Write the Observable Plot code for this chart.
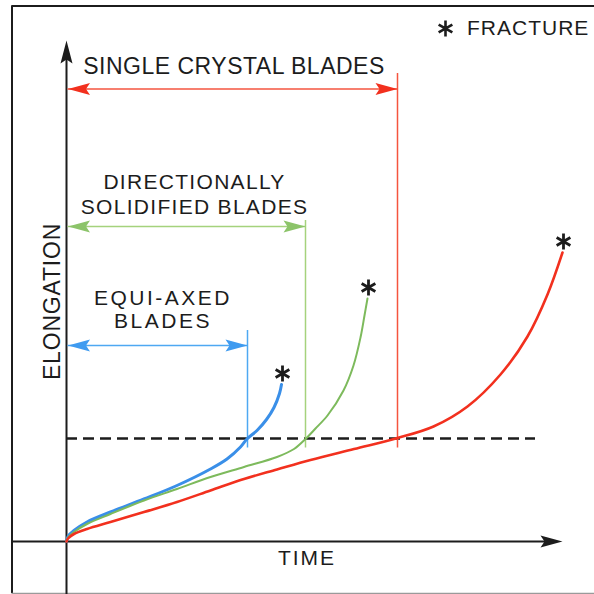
<!DOCTYPE html>
<html>
<head>
<meta charset="utf-8">
<script src="https://cdn.jsdelivr.net/npm/d3@7"></script>
<script src="https://cdn.jsdelivr.net/npm/@observablehq/plot@0.6"></script>
<style>
  body { margin: 0; background: #fff; }
  svg text { font-family: "Liberation Sans", Arial, Helvetica, sans-serif; }
  g[aria-description="label-sc"] text { letter-spacing: 0.5px; }
  g[aria-description="label-ds"] text { letter-spacing: 1.3px; }
  g[aria-description="label-eq"] text { letter-spacing: 2.5px; }
  g[aria-description="label-y"] text { letter-spacing: 0.8px; }
  g[aria-description="label-x"] text { letter-spacing: 2px; }
  g[aria-description="label-key"] text { letter-spacing: 1px; }
</style>
</head>
<body>
<div id="chart"></div>
<script>
// ---- data (time, elongation in arbitrary units) ----
const blades = ["EQUI-AXED", "DIRECTIONALLY SOLIDIFIED", "SINGLE CRYSTAL"];
const bladeLabels = ["EQUI-AXED\nBLADES", "DIRECTIONALLY\nSOLIDIFIED BLADES", "SINGLE CRYSTAL BLADES"];

const equiTime  = [0, 0.03, 0.15, 0.41, 0.88, 1.55, 2.21, 2.88, 3.21, 3.48, 3.61, 3.81, 4.00, 4.15, 4.26, 4.30];
const equiElong = [0, 0.10, 0.22, 0.39, 0.59, 0.85, 1.12, 1.45, 1.65, 1.89, 2.05, 2.22, 2.44, 2.68, 2.96, 3.14];

const dsTime  = [0, 0.03, 0.15, 0.41, 0.88, 1.55, 2.21, 2.88, 3.55, 4.21, 4.55, 4.78, 4.98, 5.22, 5.54, 5.74, 5.88, 5.96, 6.02];
const dsElong = [0, 0.08, 0.19, 0.35, 0.55, 0.82, 1.05, 1.29, 1.49, 1.69, 1.85, 2.05, 2.26, 2.52, 3.02, 3.52, 4.08, 4.52, 4.86];

const scTime  = [0, 0.03, 0.15, 0.41, 0.88, 1.55, 2.21, 2.88, 3.55, 4.21, 4.88, 5.75, 6.62, 7.34, 8.02, 8.68, 9.22, 9.62, 9.92];
const scElong = [0, 0.06, 0.15, 0.25, 0.39, 0.59, 0.79, 1.02, 1.25, 1.44, 1.63, 1.85, 2.07, 2.30, 2.70, 3.34, 4.10, 4.94, 5.78];

const thresholdElong = 2.06;                 // dashed reference level
const crossTime = [3.62, 4.78, 6.62];        // time each blade type reaches it
const guideTop  = [4.22, 6.42, 9.36];        // top of each vertical guide
const spanElong = [3.92, 6.30, 9.05];        // level of each span arrow
const guideBottom = 1.87;

// ---- styling / layout ----
const curveColors = ["#3a8fe8", "#7dba5c", "#f2301e"];
const curveWidths = [3, 2, 2.6];
const guideColors = ["#4ea8f2", "#a5d27c", "#f5553f"];
const headColors  = ["#3f9bf0", "#8cc46a", "#f2301e"];
const ink = "#1c1c1c";

const series = [
  {time: equiTime, elong: equiElong},
  {time: dsTime, elong: dsElong},
  {time: scTime, elong: scElong}
];

const frameLeft = -1.09, frameTop = 10.71, frameBottom = -1.04, xMax = 10.56;

// arrowhead shapes (tip at origin)
const headRight = {draw(c) { c.moveTo(0, 0); c.lineTo(-22, -6); c.lineTo(-18, 0); c.lineTo(-22, 6); c.closePath(); }};
const headLeft  = {draw(c) { c.moveTo(0, 0); c.lineTo(22, -6); c.lineTo(18, 0); c.lineTo(22, 6); c.closePath(); }};
const headUp    = {draw(c) { c.moveTo(0, 0); c.lineTo(-6, 23); c.lineTo(0, 19); c.lineTo(6, 23); c.closePath(); }};

const idx = [0, 1, 2];
const curveMarks = series.map((s, i) =>
  Plot.line(s.time.map((t, k) => ({t, e: s.elong[k]})), {
    x: "t", y: "e", stroke: curveColors[i], strokeWidth: curveWidths[i],
    curve: "catmull-rom", strokeLinecap: "round"
  })
);
const fracture = series.map(s => ({t: s.time[s.time.length - 1], e: s.elong[s.elong.length - 1]}));

const chart = Plot.plot({
  width: 594, height: 594, margin: 0,
  x: {domain: [-1.32, xMax], axis: null},
  y: {domain: [-1.06, 10.82], axis: null},
  color: {type: "identity"},
  style: {background: "#fff"},
  marks: [
    // page frame
    Plot.ruleX([frameLeft], {y1: frameBottom, y2: frameTop, stroke: ink, strokeWidth: 2}),
    Plot.ruleY([frameTop], {x1: frameLeft, x2: xMax, stroke: ink, strokeWidth: 2}),
    Plot.ruleY([frameBottom], {x1: frameLeft, x2: xMax, stroke: "#9a9a9a", strokeWidth: 1.5}),
    // axes
    Plot.ruleX([0], {y1: -1.06, y2: 9.7, stroke: ink, strokeWidth: 2}),
    Plot.ruleY([0], {x1: frameLeft, x2: 9.6, stroke: ink, strokeWidth: 2}),
    Plot.dot([0], {x: 0, y: 10.02, symbol: headUp, fill: ink, stroke: "none", r: 5}),
    Plot.dot([0], {x: 9.92, y: 0, symbol: headRight, fill: ink, stroke: "none", r: 5}),
    // threshold
    Plot.ruleY([thresholdElong], {x1: 0, x2: 9.38, stroke: ink, strokeWidth: 2.6, strokeDasharray: "11,6"}),
    // vertical guides
    Plot.ruleX(idx, {x: i => crossTime[i], y1: guideBottom, y2: i => guideTop[i], stroke: i => guideColors[i], strokeWidth: 1.5}),
    // span arrows
    Plot.ruleY(idx, {y: i => spanElong[i], x1: 0.03, x2: i => crossTime[i], stroke: i => guideColors[i], strokeWidth: 1.6}),
    Plot.dot(idx, {x: 0.03, y: i => spanElong[i], symbol: headLeft, fill: i => headColors[i], stroke: "none", r: 5}),
    Plot.dot(idx, {x: i => crossTime[i], y: i => spanElong[i], symbol: headRight, fill: i => headColors[i], stroke: "none", r: 5}),
    // creep curves
    ...curveMarks,
    // fracture marks
    Plot.dot(fracture, {x: "t", y: "e", dy: -11, dx: 1, symbol: "asterisk", r: 7.5, stroke: ink, strokeWidth: 2.8, fill: "none"}),
    Plot.dot([0], {x: 7.58, y: 10.26, symbol: "asterisk", r: 7.5, stroke: ink, strokeWidth: 2.6, fill: "none"}),
    Plot.text(["FRACTURE"], {x: 8.01, y: 10.26, text: d => d, textAnchor: "start", fontSize: 21, fill: ink, ariaDescription: "label-key"}),
    // labels
    Plot.text([bladeLabels[2]], {x: 3.35, y: 9.49, text: d => d, fontSize: 23, fill: ink, ariaDescription: "label-sc"}),
    Plot.text([bladeLabels[1]], {x: 2.56, y: 6.96, text: d => d, fontSize: 21, lineHeight: 1.19, fill: ink, ariaDescription: "label-ds"}),
    Plot.text([bladeLabels[0]], {x: 1.93, y: 4.64, text: d => d, fontSize: 21, lineHeight: 1.1, fill: ink, ariaDescription: "label-eq"}),
    Plot.text(["ELONGATION"], {x: -0.28, y: 4.8, text: d => d, rotate: -90, fontSize: 23, fill: ink, ariaDescription: "label-y"}),
    Plot.text(["TIME"], {x: 4.81, y: -0.33, text: d => d, fontSize: 21, fill: ink, ariaDescription: "label-x"})
  ]
});
document.getElementById("chart").appendChild(chart);
</script>
</body>
</html>
